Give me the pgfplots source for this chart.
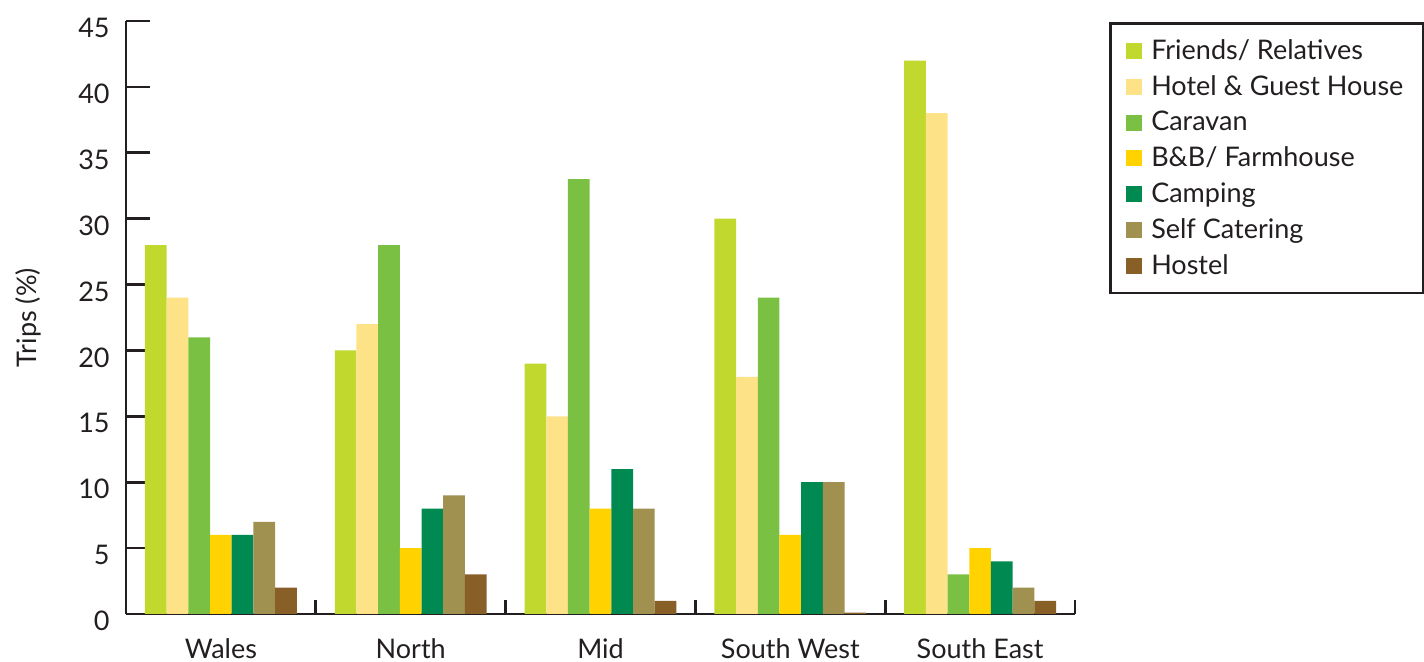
\documentclass[border=0pt]{standalone}
\usepackage{fontspec}
\setmainfont{Lato}
\usepackage{pgfplots}
\pgfplotsset{compat=1.18}

\definecolor{txt}{HTML}{231F20}
\definecolor{cFriends}{HTML}{C1D82F}
\definecolor{cHotel}{HTML}{FEE288}
\definecolor{cCaravan}{HTML}{7AC143}
\definecolor{cBB}{HTML}{FFD200}
\definecolor{cCamping}{HTML}{008A51}
\definecolor{cSelf}{HTML}{A09151}
\definecolor{cHostel}{HTML}{885F27}

\begin{document}
\begin{tikzpicture}[font=\fontsize{13.5pt}{16pt}\selectfont, text=txt]
\useasboundingbox (-63pt,-24pt) rectangle (649pt,307pt);
\begin{axis}[
  at={(0,0)}, anchor=south west,
  scale only axis, width=474.5pt, height=296.5pt,
  xmin=-0.5, xmax=4.5, ymin=0, ymax=45,
  axis lines*=left,
  axis line style={-, line width=1.3pt, draw=txt},
  ybar=0pt, bar width=0.1143,
  xtick={0,1,2,3,4},
  xticklabels={Wales,North,Mid,South West,South East},
  minor xtick={0.5,1.5,2.5,3.5,4.5},
  major x tick style={draw=none},
  minor x tick style={line width=1.3pt, draw=txt},
  minor tick length=7pt,
  ytick={0,5,...,45},
  y tick style={line width=1.3pt, draw=txt},
  major tick length=12pt,
  tick align=inside,
  yticklabel style={anchor=east, inner sep=0pt, xshift=-8pt, yshift=-3.5pt},
  xticklabel style={anchor=north, inner sep=0pt, yshift=-12pt},
  /pgf/number format/assume math mode=true,
  ylabel={Trips (\%)},
  ylabel style={at={(axis description cs:-0.1033,0.5)}, anchor=center},
  legend style={at={(1.0358,0.998)}, anchor=north west,
    draw=txt, line width=1.3pt, inner xsep=8pt, inner ysep=6pt,
    row sep=2.5pt, cells={anchor=west}, font=\fontsize{13.5pt}{16pt}\selectfont},
  legend image code/.code={\fill[#1, draw=none] (0pt,-4pt) rectangle (8pt,4pt);
    \path (10.5pt,0pt);},
  legend cell align=left,
]
\addplot[fill=cFriends, draw=none] coordinates {(0,28) (1,20) (2,19) (3,30) (4,42)};
\addplot[fill=cHotel, draw=none] coordinates {(0,24) (1,22) (2,15) (3,18) (4,38)};
\addplot[fill=cCaravan, draw=none] coordinates {(0,21) (1,28) (2,33) (3,24) (4,3)};
\addplot[fill=cBB, draw=none] coordinates {(0,6) (1,5) (2,8) (3,6) (4,5)};
\addplot[fill=cCamping, draw=none] coordinates {(0,6) (1,8) (2,11) (3,10) (4,4)};
\addplot[fill=cSelf, draw=none] coordinates {(0,7) (1,9) (2,8) (3,10) (4,2)};
\addplot[fill=cHostel, draw=none] coordinates {(0,2) (1,3) (2,1) (3,0.1) (4,1)};
\legend{Friends/ Relatives, Hotel \& Guest House, Caravan, B\&B/ Farmhouse, Camping, Self Catering, Hostel}
\end{axis}
\end{tikzpicture}
\end{document}
